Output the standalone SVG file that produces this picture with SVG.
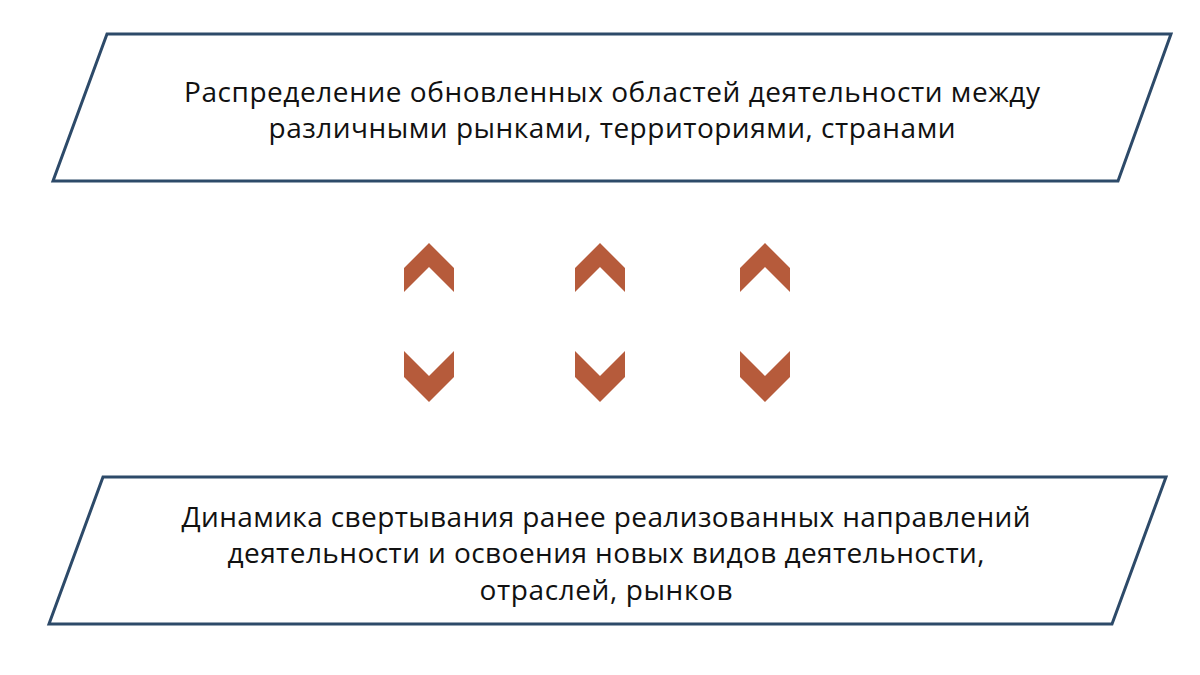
<svg xmlns="http://www.w3.org/2000/svg" width="1200" height="675" viewBox="0 0 1200 675">
<style>
.box{fill:#ffffff;stroke:#2D4A69;stroke-width:3;stroke-linejoin:miter}
.t{font-family:"Open Sans","Noto Sans","Liberation Sans",sans-serif;font-size:28px;fill:#111111;text-anchor:middle}
.chev{fill:#B65B3B}
</style>
<rect width="1200" height="675" fill="#ffffff"/>
<g id="node-top">
<polygon class="box" points="107,34 1171,34 1118,181 53,181"/>
<text class="t" x="612" y="101.5" textLength="856" lengthAdjust="spacing">Распределение обновленных областей деятельности между</text>
<text class="t" x="612" y="138" textLength="687" lengthAdjust="spacing">различными рынками, территориями, странами</text>
</g>
<g id="connectors">
<polygon class="chev" points="429,243 454,268 454,292 429,267 404,292 404,268"/>
<polygon class="chev" points="600,243 625,268 625,292 600,267 575,292 575,268"/>
<polygon class="chev" points="765,243 790,268 790,292 765,267 740,292 740,268"/>
<polygon class="chev" points="404,351 429,376 454,351 454,377 429,402 404,377"/>
<polygon class="chev" points="575,351 600,376 625,351 625,377 600,402 575,377"/>
<polygon class="chev" points="740,351 765,376 790,351 790,377 765,402 740,377"/>
</g>
<g id="node-bottom">
<polygon class="box" points="103,477 1166,477 1112,624 49,624"/>
<text class="t" x="606" y="526.5" textLength="849" lengthAdjust="spacing">Динамика свертывания ранее реализованных направлений</text>
<text class="t" x="606" y="563" textLength="757" lengthAdjust="spacing">деятельности и освоения новых видов деятельности,</text>
<text class="t" x="606" y="599.5" textLength="253" lengthAdjust="spacing">отраслей, рынков</text>
</g>
</svg>
